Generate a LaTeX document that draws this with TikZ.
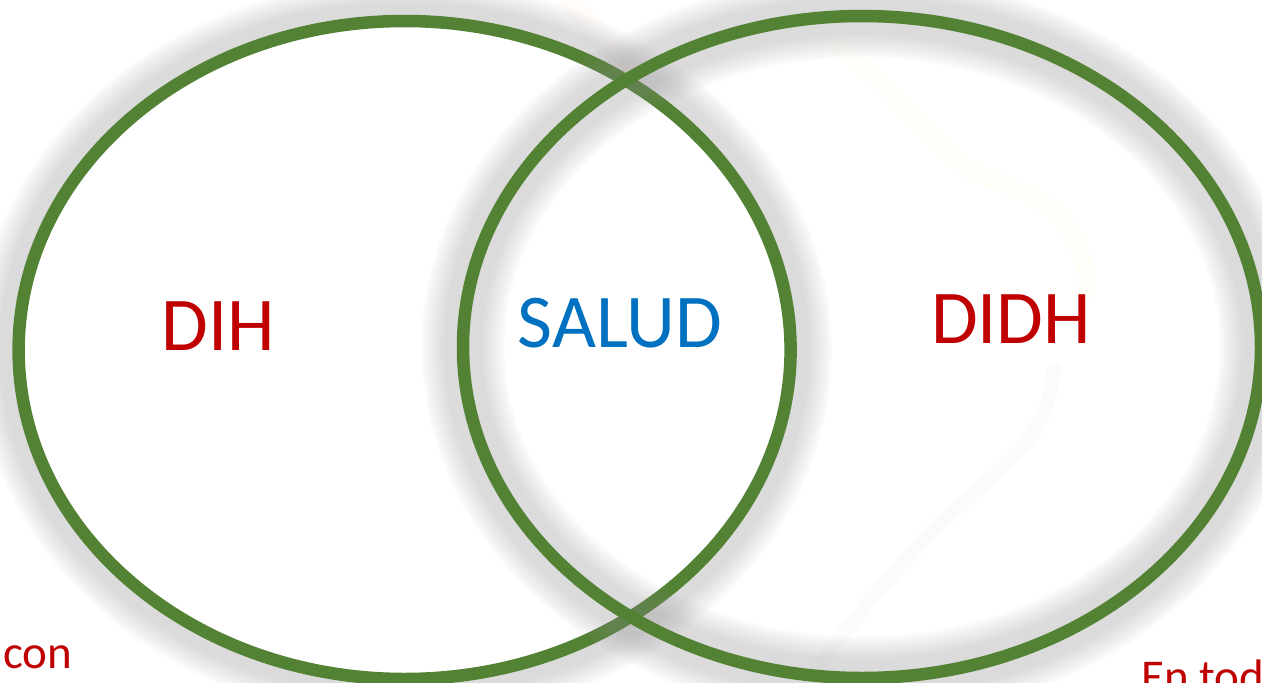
\documentclass[tikz,border=0pt]{standalone}
\usepackage{fontspec}
\setmainfont{Carlito}
\definecolor{ringgreen}{HTML}{548235}
\definecolor{labelred}{HTML}{C00000}
\definecolor{labelblue}{HTML}{0070C0}
\definecolor{shadowgray}{HTML}{969696}
\tikzset{
  x=1pt,y=-1pt,
  ring/.style={draw=ringgreen,line width=12.5pt},
  big/.style={font=\fontsize{76}{76}\selectfont,inner sep=0pt,anchor=base},
  small/.style={font=\fontsize{47}{47}\selectfont,inner sep=0pt,anchor=base west,text=labelred},
  ribbon/.style={line cap=round,line join=round,opacity=.3}
}
\newcommand{\glowstack}[4]{%
  \foreach \w in {38,42.5,...,86}{\draw[shadowgray,opacity=.031,line width=\w pt] (#1,#2) ellipse [x radius=#3,y radius=#4];}}
\begin{document}
\begin{tikzpicture}
\useasboundingbox (0,0) rectangle (1262,683);
\clip (0,0) rectangle (1262,683);
\fill[white] (0,0) rectangle (1262,683);
% faint background ribbons
\draw[ribbon,color=orange!6,line width=24pt] (565,-5) .. controls (585,20) and (600,40) .. (625,60);
\draw[ribbon,color=lime!8,line width=18pt] (840,50) .. controls (890,80) and (925,140) .. (970,170) .. controls (1020,195) and (1080,195) .. (1088,290);
\draw[ribbon,color=black!5,line width=14pt] (1054,370) .. controls (1045,440) and (1010,460) .. (960,505) .. controls (910,550) and (860,610) .. (815,672);
% left ring: glow outside only
\begin{scope}[even odd rule]
  \clip (-50,-50) rectangle (1312,733) (404.6,350) ellipse [x radius=386,y radius=329];
  \glowstack{404.6}{350}{386}{329}
\end{scope}
\draw[ring] (404.6,350) ellipse [x radius=386,y radius=329];
% right ring: glow on both sides
\glowstack{862}{347}{399}{331}
\draw[ring] (862,347) ellipse [x radius=399,y radius=331];
% labels
\node[big,text=labelred] (dih) at (218,350) {DIH};
\node[big,text=labelblue] (salud) at (620,347) {SALUD};
\node[big,text=labelred] (didh) at (1011,343) {DIDH};
\node[small] (con) at (3,668) {con};
\node[small] (entod) at (1141,692) {En tod};
\end{tikzpicture}
\end{document}
